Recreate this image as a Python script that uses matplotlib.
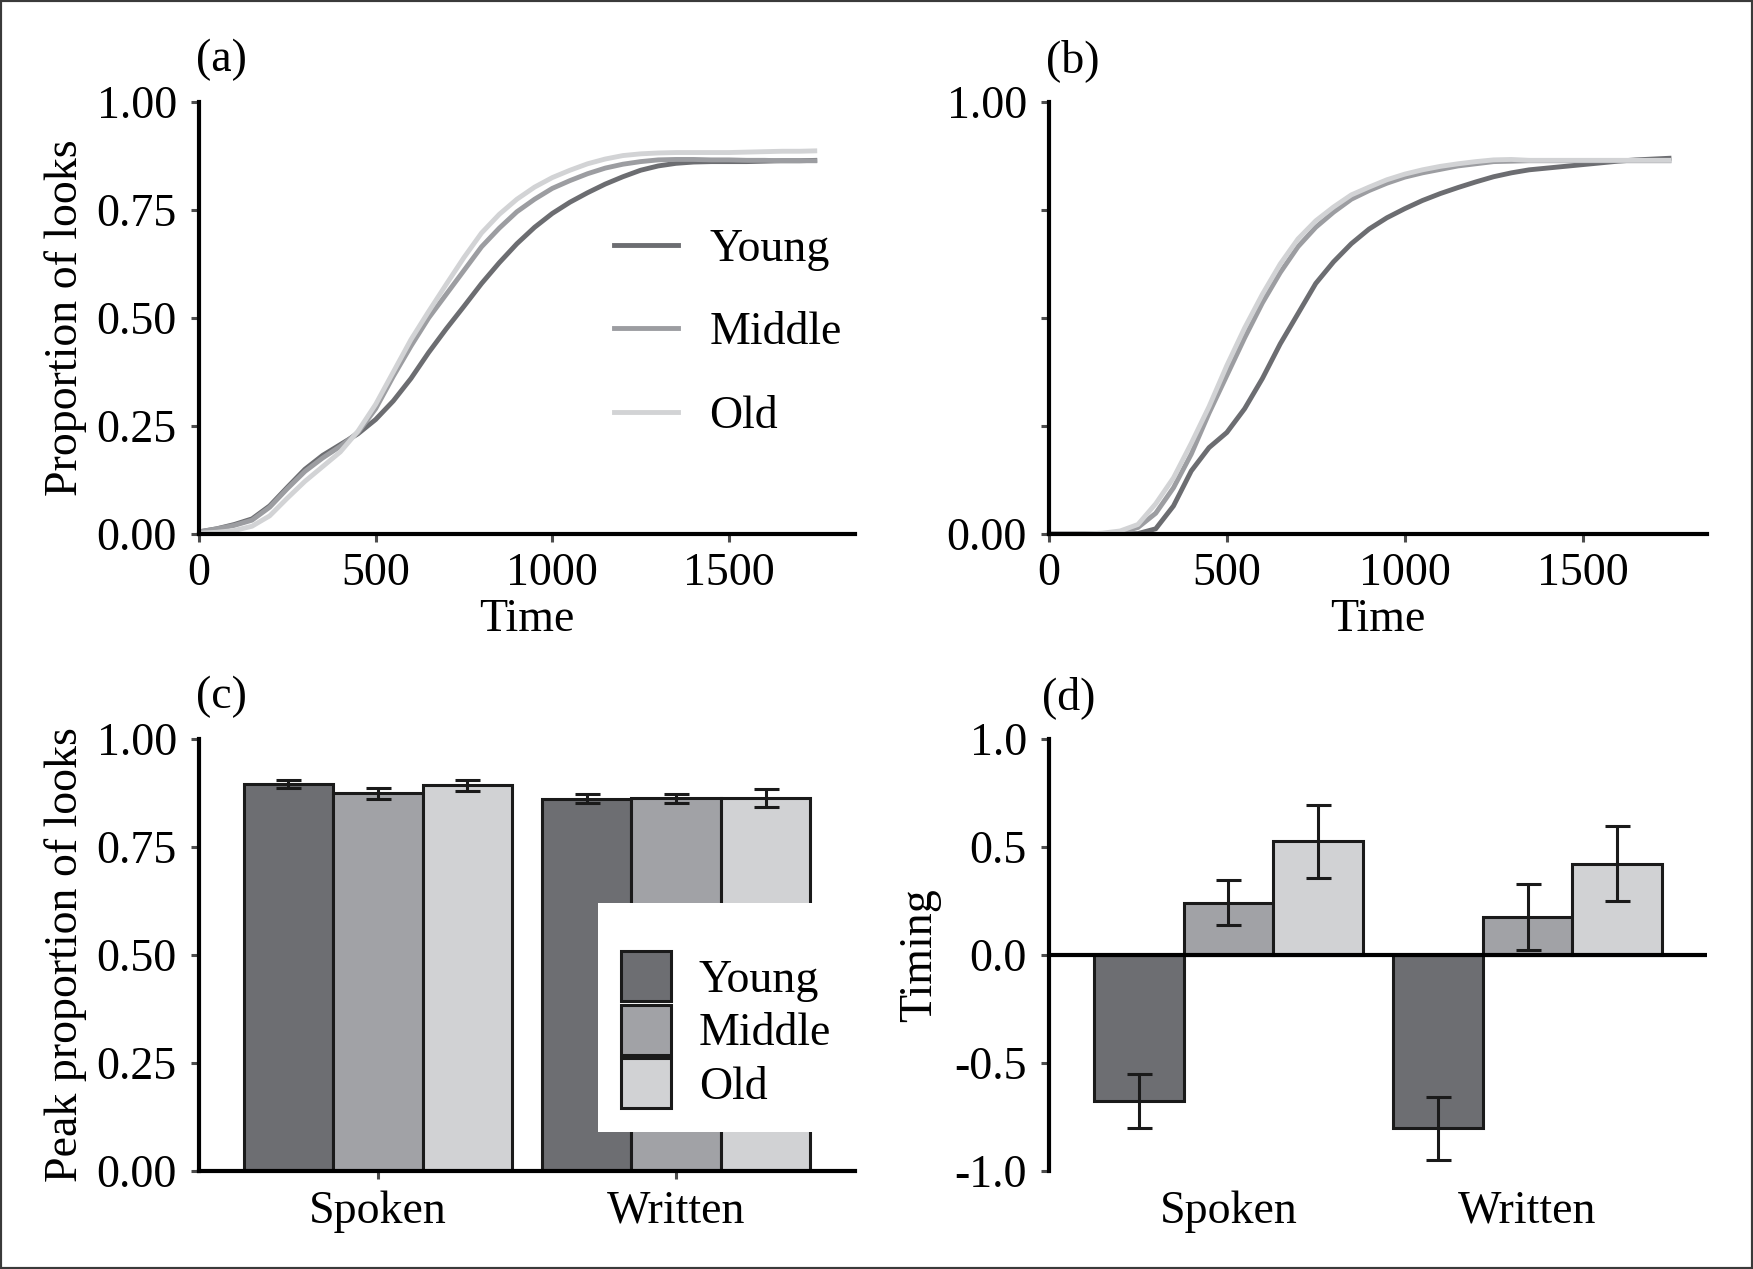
import numpy as np
import matplotlib as mpl
mpl.use('Agg')
import matplotlib.pyplot as plt
from matplotlib.patches import Rectangle, Patch
from matplotlib.lines import Line2D

# -----------------------------------------------------------
W, H, dpi = 1753, 1269, 100
fs = 33

mpl.rc('figure', facecolor='white')
mpl.rc('font', family='Liberation Serif', size=fs)
mpl.rc('axes', linewidth=3., unicode_minus=False, edgecolor='black')
mpl.rc('xtick', direction='out', color='#4d4d4d', labelcolor='black', labelsize=fs)
mpl.rc('ytick', direction='out', color='#4d4d4d', labelcolor='black', labelsize=fs)
mpl.rc('xtick.major', size=6., width=2.2, pad=7.)
mpl.rc('ytick.major', size=6., width=2.2, pad=10.)
# -----------------------------------------------------------

groups = ['Young', 'Middle', 'Old']
line_cols = ['#6c6d71', '#9c9da1', '#d2d3d5']
bar_cols = ['#6d6e72', '#a1a2a6', '#d1d2d4']

# time course (ms)
time_ms = [0, 50, 100, 150, 200, 250, 300, 350, 400, 450, 500, 550, 600, 650,
           700, 750, 800, 850, 900, 950, 1000, 1050, 1100, 1150, 1200, 1250,
           1300, 1350, 1400, 1450, 1500, 1550, 1600, 1650, 1700, 1750]

# (a) spoken
young_a = [0.005, 0.012, 0.022, 0.035, 0.065, 0.108, 0.150, 0.182, 0.207, 0.232,
           0.265, 0.308, 0.360, 0.420, 0.475, 0.527, 0.580, 0.628, 0.672, 0.710,
           0.742, 0.768, 0.790, 0.810, 0.827, 0.842, 0.852, 0.858, 0.861, 0.862,
           0.862, 0.862, 0.863, 0.864, 0.864, 0.865]
middle_a = [0.005, 0.012, 0.020, 0.032, 0.062, 0.105, 0.145, 0.176, 0.203, 0.235,
            0.290, 0.365, 0.435, 0.500, 0.555, 0.610, 0.665, 0.708, 0.746, 0.775,
            0.800, 0.818, 0.834, 0.847, 0.856, 0.862, 0.866, 0.867, 0.867, 0.866,
            0.866, 0.865, 0.865, 0.864, 0.864, 0.864]
old_a = [0.002, 0.004, 0.008, 0.018, 0.042, 0.083, 0.122, 0.156, 0.190, 0.238,
         0.300, 0.375, 0.450, 0.515, 0.578, 0.640, 0.697, 0.740, 0.775, 0.803,
         0.825, 0.842, 0.857, 0.868, 0.876, 0.880, 0.882, 0.883, 0.883, 0.883,
         0.883, 0.884, 0.885, 0.886, 0.886, 0.887]

# (b) written
young_b = [0.0, 0.0, 0.0, 0.0, 0.0, 0.001, 0.012, 0.065, 0.146, 0.200,
           0.235, 0.290, 0.360, 0.440, 0.510, 0.580, 0.630, 0.672, 0.706, 0.732,
           0.753, 0.772, 0.788, 0.802, 0.815, 0.827, 0.836, 0.843, 0.847, 0.851,
           0.855, 0.859, 0.863, 0.866, 0.868, 0.870]
middle_b = [0.0, 0.0, 0.0, 0.0, 0.004, 0.015, 0.048, 0.107, 0.185, 0.280,
            0.367, 0.454, 0.535, 0.605, 0.665, 0.710, 0.745, 0.775, 0.795, 0.812,
            0.826, 0.836, 0.844, 0.852, 0.857, 0.862, 0.863, 0.864, 0.864, 0.864,
            0.864, 0.864, 0.864, 0.864, 0.864, 0.864]
old_b = [0.0, 0.0, 0.0, 0.002, 0.007, 0.022, 0.070, 0.130, 0.210, 0.295,
         0.390, 0.477, 0.555, 0.625, 0.683, 0.725, 0.757, 0.785, 0.803, 0.820,
         0.833, 0.843, 0.851, 0.857, 0.862, 0.866, 0.867, 0.865, 0.865, 0.865,
         0.865, 0.865, 0.865, 0.865, 0.865, 0.865]

# (c) peak proportion, (d) timing
modality = ['Spoken', 'Written']
peak_young = [0.895, 0.862]
peak_middle = [0.874, 0.863]
peak_old = [0.893, 0.863]
peak_young_se = [0.009, 0.010]
peak_middle_se = [0.012, 0.010]
peak_old_se = [0.013, 0.021]

tim_young = [-0.676, -0.802]
tim_middle = [0.242, 0.176]
tim_old = [0.527, 0.423]
tim_young_se = [0.124, 0.146]
tim_middle_se = [0.103, 0.152]
tim_old_se = [0.169, 0.173]


def px_rect(l, r, t, b):
    return [l/W, 1-b/H, (r-l)/W, (b-t)/H]


fig = plt.figure(figsize=(W/dpi, H/dpi), dpi=dpi)
ax_a = fig.add_axes(px_rect(199, 855, 102, 534))
ax_b = fig.add_axes(px_rect(1049, 1707, 102, 534))
ax_c = fig.add_axes(px_rect(199, 855, 739, 1171))
ax_d = fig.add_axes(px_rect(1049, 1707, 739, 1171))

for ax in (ax_a, ax_b, ax_c, ax_d):
    ax.spines['top'].set_visible(False)
    ax.spines['right'].set_visible(False)

# ---------------- line panels ----------------
for ax, series, xmax, tag in ((ax_a, (young_a, middle_a, old_a), 1857, '(a)'),
                              (ax_b, (young_b, middle_b, old_b), 1850, '(b)')):
    for y, c, g in zip(series, line_cols, groups):
        ax.plot(time_ms, y, color=c, lw=3.5, label=g, solid_capstyle='butt')
    ax.set_xlim(0, xmax)
    ax.set_ylim(0, 1)
    ax.set_xticks([0, 500, 1000, 1500])
    ax.set_yticks([0, 0.25, 0.5, 0.75, 1.0])
    ax.set_xlabel('Time')
    ax.xaxis.set_label_coords(0.5, -0.199)
    ax.xaxis.label.set_va('center')
    ax.text(-0.005, 1.097, tag, transform=ax.transAxes, ha='left', va='center')

ax_a.set_yticklabels(['0.00', '0.25', '0.50', '0.75', '1.00'])
ax_b.set_yticklabels(['0.00', '', '', '', '1.00'])
ax_a.set_ylabel('Proportion of looks')
ax_a.yaxis.set_label_coords(-0.204, 0.5)
ax_a.yaxis.label.set_va('center')

hnd = [Line2D([], [], color=c, lw=3.5) for c in line_cols]
ax_a.legend(hnd, groups, loc='center left', bbox_to_anchor=(0.633, 0.465),
            frameon=False, borderpad=0, borderaxespad=0, handlelength=1.4,
            handletextpad=0.68, labelspacing=0.9)

# ---------------- bar panels ----------------
xc = np.array([1, 2])
bw = 0.3
offs = [-bw, 0, bw]


def bars(ax, vals, errs):
    for v, e, c, o in zip(vals, errs, bar_cols, offs):
        ax.bar(xc + o, v, width=bw, color=c, edgecolor='#1a1a1a', lw=2.2, zorder=2)
        ax.errorbar(xc + o, v, yerr=e, fmt='none', ecolor='#1a1a1a',
                    elinewidth=2.2, capsize=9, capthick=2.2, zorder=3)
    ax.set_xlim(0.4, 2.6)
    ax.set_xticks(xc)
    ax.set_xticklabels(modality)


bars(ax_c, (peak_young, peak_middle, peak_old),
     (peak_young_se, peak_middle_se, peak_old_se))
ax_c.set_ylim(0, 1)
ax_c.set_yticks([0, 0.25, 0.5, 0.75, 1.0])
ax_c.set_yticklabels(['0.00', '0.25', '0.50', '0.75', '1.00'])
ax_c.tick_params(axis='x', pad=8)
ax_c.set_ylabel('Peak proportion of looks')
ax_c.yaxis.set_label_coords(-0.204, 0.5)
ax_c.yaxis.label.set_va('center')
ax_c.text(-0.005, 1.097, '(c)', transform=ax_c.transAxes, ha='left', va='center')

phnd = [Patch(facecolor=c, edgecolor='#1a1a1a', lw=2.2) for c in bar_cols]
leg = ax_c.legend(phnd, groups, loc='upper left', bbox_to_anchor=(0.608, 0.620),
                  frameon=True, fancybox=False, facecolor='white', edgecolor='none',
                  framealpha=1, borderpad=0.5, borderaxespad=0, handlelength=1.1,
                  handleheight=1.3, handletextpad=0.6, labelspacing=0.07,
                  title=' ', title_fontsize=18)
leg.set_zorder(5)

bars(ax_d, (tim_young, tim_middle, tim_old),
     (tim_young_se, tim_middle_se, tim_old_se))
ax_d.set_ylim(-1, 1)
ax_d.set_yticks([-1.0, -0.5, 0.0, 0.5, 1.0])
ax_d.set_yticklabels(['-1.0', '-0.5', '0.0', '0.5', '1.0'])
ax_d.spines['bottom'].set_visible(False)
ax_d.tick_params(axis='x', length=0, pad=14)
ax_d.axhline(0, color='black', lw=3., zorder=4)
ax_d.set_ylabel('Timing')
ax_d.yaxis.set_label_coords(-0.196, 0.5)
ax_d.yaxis.label.set_va('center')
ax_d.text(-0.01, 1.097, '(d)', transform=ax_d.transAxes, ha='left', va='center')

# frame round the whole figure
fig.patches.append(Rectangle((0, 0), 1, 1, transform=fig.transFigure, fill=False,
                             ec='#3a3a3a', lw=3))

plt.savefig('out.png', dpi=dpi)
